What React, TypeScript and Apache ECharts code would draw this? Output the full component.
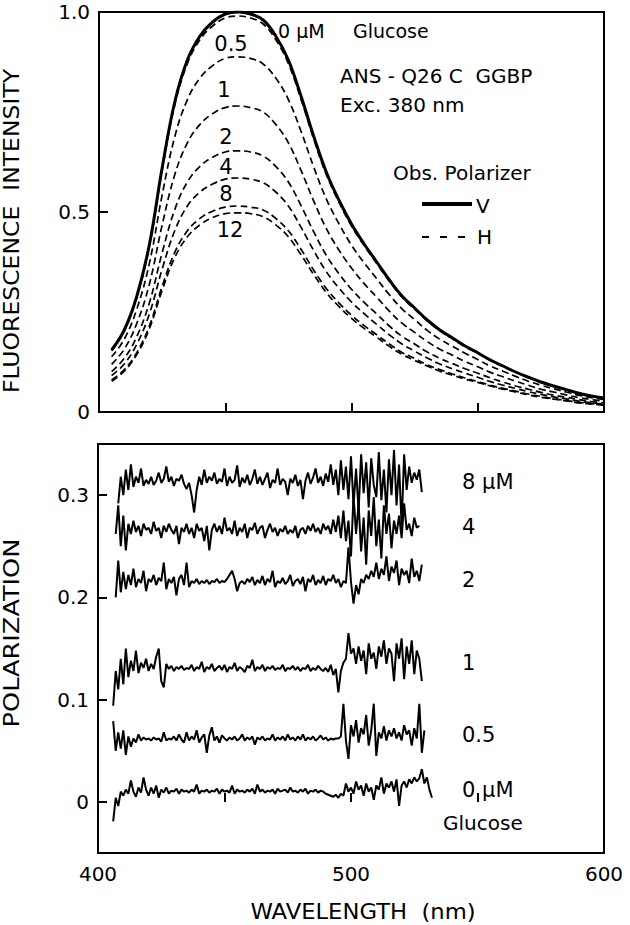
import React, { useEffect, useRef } from "react";
import * as echarts from "echarts";

// ---------- Fluorescence emission spectra (top panel) ----------
const fluorWavelengths = [
  405, 410, 415, 420, 425, 430, 435, 440, 445, 450, 455, 460, 465, 470, 475, 480, 485, 490, 495, 500,
  505, 510, 515, 520, 525, 530, 535, 540, 545, 550, 555, 560, 565, 570, 575, 580, 585, 590, 595, 600,
];
// Vertical observation polarizer, 0 uM glucose (solid)
const fluorV0 = [
  0.155, 0.205, 0.29, 0.42, 0.61, 0.775, 0.88, 0.94, 0.975, 0.995, 1.0, 0.995, 0.98, 0.94, 0.88, 0.79, 0.69, 0.6, 0.53, 0.47,
  0.42, 0.375, 0.33, 0.29, 0.26, 0.23, 0.205, 0.185, 0.165, 0.148, 0.13, 0.115, 0.1, 0.087, 0.075, 0.065, 0.056, 0.047, 0.04, 0.035,
];
// Horizontal observation polarizer (dashed), glucose in uM
const fluorH0 = [
  0.153, 0.203, 0.287, 0.416, 0.604, 0.767, 0.871, 0.931, 0.965, 0.985, 0.99, 0.985, 0.97, 0.931, 0.871, 0.782, 0.683, 0.594, 0.525, 0.465,
  0.416, 0.371, 0.327, 0.287, 0.257, 0.228, 0.203, 0.183, 0.163, 0.147, 0.129, 0.114, 0.099, 0.086, 0.074, 0.064, 0.055, 0.047, 0.04, 0.035,
];
const fluorH05 = [
  0.138, 0.182, 0.258, 0.373, 0.542, 0.688, 0.781, 0.835, 0.866, 0.884, 0.888, 0.884, 0.87, 0.835, 0.781, 0.702, 0.613, 0.533, 0.471, 0.417,
  0.373, 0.333, 0.293, 0.258, 0.231, 0.204, 0.182, 0.164, 0.147, 0.131, 0.115, 0.102, 0.089, 0.077, 0.067, 0.058, 0.05, 0.042, 0.036, 0.031,
];
const fluorH1 = [
  0.119, 0.157, 0.222, 0.321, 0.467, 0.593, 0.673, 0.719, 0.746, 0.761, 0.765, 0.761, 0.75, 0.719, 0.673, 0.604, 0.528, 0.459, 0.405, 0.36,
  0.321, 0.287, 0.252, 0.222, 0.199, 0.176, 0.157, 0.142, 0.126, 0.113, 0.099, 0.088, 0.077, 0.067, 0.057, 0.05, 0.043, 0.036, 0.031, 0.027,
];
const fluorH2 = [
  0.101, 0.134, 0.189, 0.274, 0.398, 0.506, 0.575, 0.614, 0.637, 0.65, 0.653, 0.65, 0.64, 0.614, 0.575, 0.516, 0.451, 0.392, 0.346, 0.307,
  0.274, 0.245, 0.215, 0.189, 0.17, 0.15, 0.134, 0.121, 0.108, 0.097, 0.085, 0.075, 0.065, 0.057, 0.049, 0.042, 0.037, 0.031, 0.026, 0.023,
];
const fluorH4 = [
  0.091, 0.12, 0.17, 0.246, 0.357, 0.453, 0.515, 0.55, 0.57, 0.582, 0.585, 0.582, 0.573, 0.55, 0.515, 0.462, 0.404, 0.351, 0.31, 0.275,
  0.246, 0.219, 0.193, 0.17, 0.152, 0.135, 0.12, 0.108, 0.097, 0.087, 0.076, 0.067, 0.059, 0.051, 0.044, 0.038, 0.033, 0.027, 0.023, 0.02,
];
const fluorH8 = [
  0.08, 0.106, 0.149, 0.216, 0.314, 0.399, 0.453, 0.484, 0.502, 0.512, 0.515, 0.512, 0.505, 0.484, 0.453, 0.407, 0.355, 0.309, 0.273, 0.242,
  0.216, 0.193, 0.17, 0.149, 0.134, 0.118, 0.106, 0.095, 0.085, 0.076, 0.067, 0.059, 0.052, 0.045, 0.039, 0.033, 0.029, 0.024, 0.021, 0.018,
];
const fluorH12 = [
  0.077, 0.102, 0.144, 0.209, 0.304, 0.386, 0.438, 0.468, 0.486, 0.496, 0.498, 0.496, 0.488, 0.468, 0.438, 0.393, 0.344, 0.299, 0.264, 0.234,
  0.209, 0.187, 0.164, 0.144, 0.129, 0.115, 0.102, 0.092, 0.082, 0.074, 0.065, 0.057, 0.05, 0.043, 0.037, 0.032, 0.028, 0.023, 0.02, 0.017,
];

// ---------- Polarization traces (bottom panel), 1 nm steps ----------
const pol8Start = 408;
const pol8 = [
  0.292, 0.318, 0.3, 0.325, 0.305, 0.33, 0.308, 0.318, 0.312, 0.326, 0.309, 0.315, 0.311, 0.318, 0.31, 0.314, 0.322, 0.312, 0.316, 0.328,
  0.313, 0.318, 0.309, 0.316, 0.314, 0.32, 0.311, 0.306, 0.312, 0.3, 0.283, 0.305, 0.318, 0.31, 0.325, 0.312, 0.318, 0.314, 0.322, 0.311,
  0.316, 0.313, 0.326, 0.309, 0.318, 0.312, 0.315, 0.329, 0.308, 0.317, 0.312, 0.32, 0.31, 0.316, 0.325, 0.311, 0.318, 0.31, 0.316, 0.322,
  0.307, 0.315, 0.312, 0.326, 0.31, 0.316, 0.313, 0.3, 0.316, 0.312, 0.32, 0.309, 0.315, 0.296, 0.314, 0.322, 0.311, 0.317, 0.326, 0.312,
  0.318, 0.309, 0.321, 0.313, 0.33, 0.31, 0.325, 0.3, 0.334, 0.305, 0.328, 0.296, 0.338, 0.29, 0.326, 0.284, 0.34, 0.302, 0.332, 0.288,
  0.336, 0.31, 0.298, 0.342, 0.295, 0.325, 0.283, 0.335, 0.3, 0.344, 0.29, 0.33, 0.27, 0.34, 0.305, 0.328, 0.312, 0.322, 0.315, 0.325,
  0.303,
];
const pol4Start = 407;
const pol4 = [
  0.262, 0.29, 0.25, 0.28, 0.246, 0.272, 0.262, 0.275, 0.264, 0.27, 0.26, 0.272, 0.266, 0.268, 0.262, 0.274, 0.265, 0.268, 0.258, 0.27,
  0.264, 0.272, 0.266, 0.262, 0.27, 0.252, 0.268, 0.264, 0.272, 0.262, 0.268, 0.258, 0.272, 0.265, 0.268, 0.255, 0.27, 0.246, 0.266, 0.272,
  0.264, 0.27, 0.262, 0.278, 0.265, 0.268, 0.262, 0.275, 0.26, 0.268, 0.264, 0.272, 0.258, 0.268, 0.266, 0.273, 0.262, 0.268, 0.27, 0.258,
  0.266, 0.272, 0.264, 0.268, 0.26, 0.267, 0.264, 0.27, 0.262, 0.266, 0.263, 0.27, 0.258, 0.266, 0.268, 0.262, 0.27, 0.265, 0.272, 0.264,
  0.268, 0.262, 0.272, 0.266, 0.27, 0.262, 0.276, 0.264, 0.28, 0.258, 0.285, 0.255, 0.275, 0.24, 0.3, 0.262, 0.292, 0.245, 0.278, 0.232,
  0.285, 0.26, 0.298, 0.25, 0.276, 0.238, 0.29, 0.262, 0.282, 0.248, 0.275, 0.262, 0.28, 0.258, 0.292, 0.266, 0.272, 0.26, 0.278, 0.268,
  0.27,
];
const pol2Start = 407;
const pol2 = [
  0.2, 0.236, 0.205, 0.225, 0.208, 0.222, 0.212, 0.228, 0.21, 0.218, 0.214, 0.226, 0.206, 0.218, 0.215, 0.222, 0.212, 0.219, 0.216, 0.234,
  0.208, 0.218, 0.214, 0.22, 0.202, 0.218, 0.222, 0.212, 0.234, 0.21, 0.216, 0.214, 0.218, 0.213, 0.216, 0.214, 0.217, 0.213, 0.216, 0.215,
  0.218, 0.214, 0.216, 0.215, 0.218, 0.222, 0.226, 0.218, 0.206, 0.214, 0.216, 0.213, 0.218, 0.215, 0.22, 0.212, 0.217, 0.214, 0.221, 0.212,
  0.218, 0.215, 0.226, 0.21, 0.216, 0.214, 0.219, 0.213, 0.216, 0.222, 0.211, 0.216, 0.218, 0.213, 0.22, 0.206, 0.218, 0.215, 0.222, 0.212,
  0.217, 0.214, 0.221, 0.212, 0.218, 0.216, 0.222, 0.214, 0.218, 0.21, 0.216, 0.214, 0.249, 0.215, 0.194, 0.212, 0.203, 0.218, 0.214, 0.222,
  0.218, 0.226, 0.22, 0.234, 0.218, 0.228, 0.222, 0.24, 0.216, 0.23, 0.224, 0.236, 0.212, 0.228, 0.222, 0.226, 0.214, 0.238, 0.22, 0.226,
  0.216, 0.232,
];
const pol1Start = 406;
const pol1 = [
  0.094, 0.128, 0.11, 0.14, 0.115, 0.15, 0.122, 0.138, 0.128, 0.148, 0.126, 0.136, 0.131, 0.14, 0.128, 0.135, 0.13, 0.142, 0.15, 0.118,
  0.112, 0.135, 0.13, 0.133, 0.128, 0.132, 0.13, 0.133, 0.129, 0.131, 0.13, 0.134, 0.128, 0.132, 0.13, 0.137, 0.127, 0.132, 0.13, 0.135,
  0.128, 0.131, 0.133, 0.129, 0.134, 0.127, 0.132, 0.13, 0.136, 0.128, 0.132, 0.13, 0.127, 0.133, 0.131, 0.139, 0.128, 0.132, 0.13, 0.134,
  0.128, 0.132, 0.13, 0.133, 0.129, 0.131, 0.13, 0.134, 0.128, 0.131, 0.13, 0.133, 0.129, 0.132, 0.128, 0.131, 0.13, 0.134, 0.128, 0.131,
  0.129, 0.133, 0.13, 0.128, 0.131, 0.127, 0.134, 0.124, 0.13, 0.107, 0.128, 0.136, 0.14, 0.165, 0.145, 0.15, 0.135, 0.152, 0.138, 0.148,
  0.125, 0.155, 0.14, 0.146, 0.13, 0.152, 0.142, 0.158, 0.135, 0.15, 0.145, 0.118, 0.155, 0.14, 0.16, 0.12, 0.152, 0.135, 0.158, 0.125,
  0.148, 0.14, 0.118,
];
const pol05Start = 406;
const pol05 = [
  0.079, 0.05, 0.068, 0.052, 0.07, 0.046, 0.064, 0.054, 0.062, 0.058, 0.066, 0.06, 0.063, 0.061, 0.062, 0.06, 0.063, 0.061, 0.062, 0.059,
  0.068, 0.06, 0.062, 0.061, 0.064, 0.06, 0.066, 0.061, 0.058, 0.068, 0.06, 0.064, 0.061, 0.07, 0.058, 0.063, 0.066, 0.048, 0.065, 0.073,
  0.06, 0.064, 0.058, 0.065, 0.062, 0.06, 0.063, 0.061, 0.064, 0.06, 0.062, 0.066, 0.06, 0.063, 0.061, 0.064, 0.056, 0.063, 0.061, 0.064,
  0.06, 0.062, 0.061, 0.066, 0.06, 0.063, 0.061, 0.064, 0.06, 0.066, 0.061, 0.063, 0.06, 0.064, 0.061, 0.066, 0.06, 0.063, 0.061, 0.064,
  0.06, 0.062, 0.065, 0.061, 0.063, 0.06, 0.062, 0.061, 0.062, 0.062, 0.064, 0.096, 0.06, 0.042, 0.075, 0.064, 0.08, 0.058, 0.072, 0.066,
  0.085, 0.055, 0.07, 0.096, 0.045, 0.068, 0.062, 0.074, 0.06, 0.07, 0.064, 0.072, 0.062, 0.068, 0.06, 0.075, 0.066, 0.07, 0.055, 0.072,
  0.062, 0.096, 0.048, 0.07,
];
const pol0Start = 406;
const pol0 = [
  -0.019, 0.004, -0.004, 0.01, 0.006, 0.012, 0.008, 0.021, 0.01, 0.005, 0.014, 0.009, 0.024, 0.012, 0.006, 0.014, 0.008, 0.016, 0.004, 0.012,
  0.009, 0.014, 0.008, 0.011, 0.01, 0.013, 0.008, 0.012, 0.01, 0.011, 0.009, 0.012, 0.01, 0.017, 0.008, 0.011, 0.01, 0.012, 0.009, 0.011,
  0.01, 0.013, 0.008, 0.012, 0.01, 0.011, 0.009, 0.016, 0.008, 0.012, 0.01, 0.011, 0.009, 0.012, 0.01, 0.013, 0.008, 0.017, 0.01, 0.012,
  0.009, 0.011, 0.01, 0.012, 0.008, 0.013, 0.01, 0.011, 0.012, 0.009, 0.014, 0.01, 0.011, 0.009, 0.012, 0.01, 0.013, 0.008, 0.011, 0.01,
  0.012, 0.009, 0.011, 0.01, 0.008, 0.007, 0.006, 0.005, 0.007, 0.004, 0.008, 0.006, 0.018, 0.01, 0.014, 0.008, 0.02, 0.012, 0.016, 0.006,
  0.018, 0.01, 0.014, 0.002, 0.016, 0.012, 0.024, 0.008, 0.018, 0.014, 0.02, 0.01, 0.022, -0.004, 0.016, 0.02, 0.014, 0.022, 0.018, 0.024,
  0.02, 0.023, 0.032, 0.018, 0.024, 0.012, 0.004,
];

// axis tick values
const wavelengthRange = [400, 600];
const fluorTicks = [0, 0.5, 1.0];
const polTicks = [0, 0.1, 0.2, 0.3];
const polRange = [-0.05, 0.35];

const FONT = "DejaVu Sans";

function spectrum(vals: number[]) {
  return vals.map((v, i) => [fluorWavelengths[i], v]);
}
function trace(start: number, vals: number[]) {
  return vals.map((v, i) => [start + i, v]);
}

function txt(text: string, x: number, y: number, size: number, align: string = "left", extra: any = {}) {
  return {
    type: "text",
    x,
    y,
    silent: true,
    ...extra,
    style: {
      text,
      fill: "#000",
      fontFamily: FONT,
      fontSize: size,
      textAlign: align,
      textVerticalAlign: "middle",
      verticalAlign: "middle",
    },
  };
}

export default function App() {
  const ref = useRef<HTMLDivElement>(null);
  useEffect(() => {
    if (!ref.current) return;
    const chart = echarts.init(ref.current, null, { renderer: "svg" });
    const dashed = { color: "#000", width: 1.7, type: [7, 4] as any };
    const fluorSeries = [
      { name: "V 0", data: spectrum(fluorV0), lineStyle: { color: "#000", width: 3, type: "solid" } },
      { name: "H 0", data: spectrum(fluorH0), lineStyle: dashed },
      { name: "H 0.5", data: spectrum(fluorH05), lineStyle: dashed },
      { name: "H 1", data: spectrum(fluorH1), lineStyle: dashed },
      { name: "H 2", data: spectrum(fluorH2), lineStyle: dashed },
      { name: "H 4", data: spectrum(fluorH4), lineStyle: dashed },
      { name: "H 8", data: spectrum(fluorH8), lineStyle: dashed },
      { name: "H 12", data: spectrum(fluorH12), lineStyle: dashed },
    ].map((s) => ({
      ...s,
      type: "line",
      xAxisIndex: 0,
      yAxisIndex: 0,
      symbol: "none",
      showSymbol: false,
      smooth: 0.4,
      silent: true,
      z: 3,
    }));
    const polSeries = [
      { name: "P 8", data: trace(pol8Start, pol8) },
      { name: "P 4", data: trace(pol4Start, pol4) },
      { name: "P 2", data: trace(pol2Start, pol2) },
      { name: "P 1", data: trace(pol1Start, pol1) },
      { name: "P 0.5", data: trace(pol05Start, pol05) },
      { name: "P 0", data: trace(pol0Start, pol0) },
    ].map((s) => ({
      ...s,
      type: "line",
      xAxisIndex: 1,
      yAxisIndex: 1,
      symbol: "none",
      showSymbol: false,
      silent: true,
      lineStyle: { color: "#000", width: 2 },
      z: 3,
    }));

    const labelStyle = { color: "#000", fontFamily: FONT, fontSize: 20 };
    const tick = { show: true, inside: true, length: 9, lineStyle: { color: "#000", width: 2 } };

    chart.setOption({
      animation: false,
      backgroundColor: "#fff",
      grid: [
        { left: 99, top: 12, width: 505, height: 400, show: true, borderColor: "#000", borderWidth: 2, backgroundColor: "transparent" },
        { left: 98, top: 444, width: 506, height: 409, show: true, borderColor: "#000", borderWidth: 2, backgroundColor: "transparent" },
      ],
      xAxis: [
        {
          type: "value",
          gridIndex: 0,
          min: wavelengthRange[0],
          max: wavelengthRange[1],
          interval: 50,
          axisLine: { show: false },
          axisTick: tick,
          axisLabel: { show: false },
          splitLine: { show: false },
        },
        {
          type: "value",
          gridIndex: 1,
          min: wavelengthRange[0],
          max: wavelengthRange[1],
          interval: 50,
          axisLine: { show: false },
          axisTick: tick,
          axisLabel: {
            ...labelStyle,
            margin: 11,
            formatter: (v: number) => (v % 100 === 0 ? String(v) : ""),
          },
          splitLine: { show: false },
        },
      ],
      yAxis: [
        {
          type: "value",
          gridIndex: 0,
          min: 0,
          max: 1,
          interval: 0.5,
          axisLine: { show: false },
          axisTick: { ...tick, customValues: fluorTicks },
          axisLabel: {
            ...labelStyle,
            margin: 9,
            customValues: fluorTicks,
            formatter: (v: number) => (v === 0 ? "0" : v.toFixed(1)),
          },
          splitLine: { show: false },
        },
        {
          type: "value",
          gridIndex: 1,
          min: polRange[0],
          max: polRange[1],
          axisLine: { show: false },
          axisTick: { ...tick, customValues: polTicks },
          axisLabel: {
            ...labelStyle,
            margin: 9,
            customValues: polTicks,
            formatter: (v: number) => (Math.abs(v) < 1e-9 ? "0" : v.toFixed(1)),
          },
          splitLine: { show: false },
        },
      ],
      series: [...fluorSeries, ...polSeries],
      graphic: [
        // axis titles
        txt("FLUORESCENCE  INTENSITY", 11, 231, 21, "center", { rotation: Math.PI / 2, scaleX: 1.12 }),
        txt("POLARIZATION", 12, 633, 21, "center", { rotation: Math.PI / 2, scaleX: 1.22 }),
        txt("WAVELENGTH  (nm)", 363, 912, 21, "center", { scaleX: 1.08 }),
        // top panel curve labels
        txt("0 μM", 278, 31, 19),
        txt("Glucose", 353, 31, 19),
        txt("0.5", 231, 44, 21, "center"),
        txt("1", 224, 90, 21, "center"),
        txt("2", 226, 137, 21, "center"),
        txt("4", 226, 167, 21, "center"),
        txt("8", 226, 194, 21, "center"),
        txt("12", 230, 230, 21, "center"),
        // annotation
        txt("ANS - Q26 C  GGBP", 340, 76, 20),
        txt("Exc. 380 nm", 340, 105, 20),
        txt("Obs. Polarizer", 393, 173, 20),
        {
          type: "line",
          silent: true,
          shape: { x1: 422, y1: 204, x2: 472, y2: 204 },
          style: { stroke: "#000", lineWidth: 4 },
        },
        txt("V", 476, 206, 20),
        {
          type: "line",
          silent: true,
          shape: { x1: 422, y1: 237, x2: 472, y2: 237 },
          style: { stroke: "#000", lineWidth: 1.8, lineDash: [7, 11] },
        },
        txt("H", 477, 237, 20),
        // bottom panel trace labels
        txt("8 μM", 462, 482, 21),
        txt("4", 462, 527, 21),
        txt("2", 462, 580, 21),
        txt("1", 462, 663, 21),
        txt("0.5", 462, 735, 21),
        txt("0 μM", 462, 790, 21),
        txt("Glucose", 443, 823, 20),
      ],
    });
    return () => chart.dispose();
  }, []);
  return <div ref={ref} style={{ position: "fixed", left: 0, top: 0, width: 630, height: 925, background: "#fff" }} />;
}
